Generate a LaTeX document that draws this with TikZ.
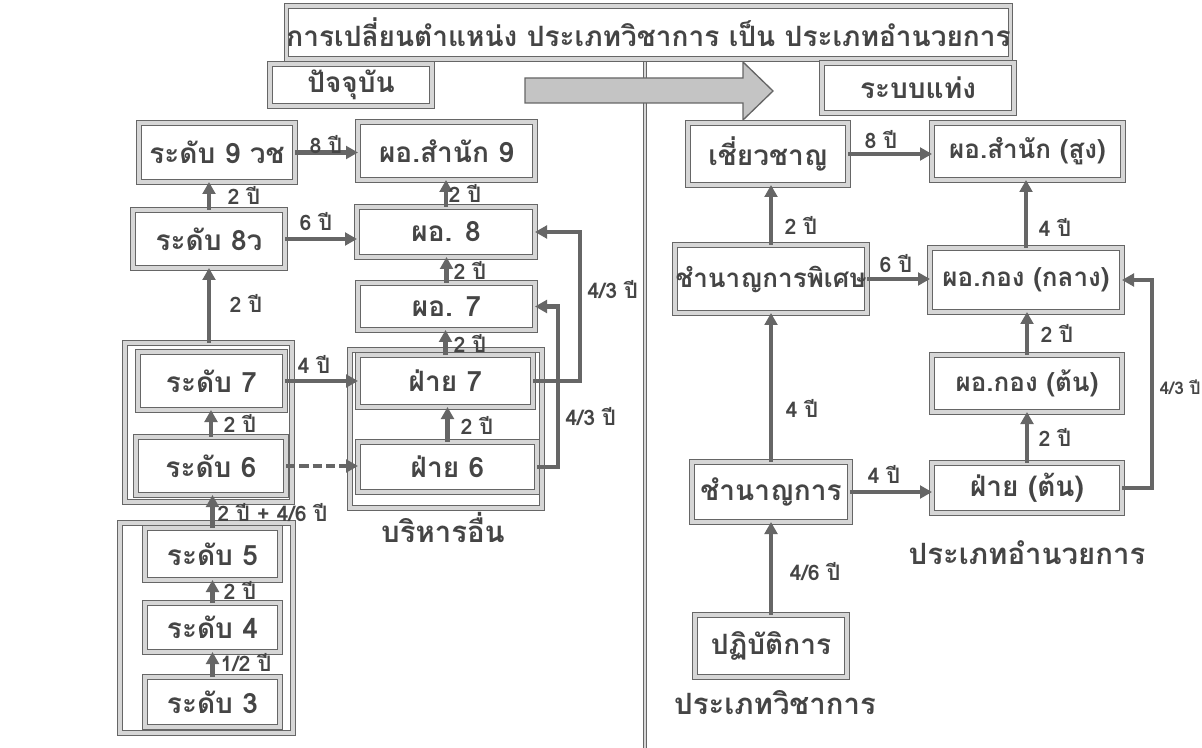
\documentclass[tikz,border=0pt]{standalone}
\usepackage{fontspec}
\newfontfamily\thaifont[Script=Thai]{Loma}
\usetikzlibrary{arrows.meta}
\definecolor{lc}{HTML}{666666}
\definecolor{tc}{HTML}{454545}
\definecolor{dc}{HTML}{D6D6D6}
\definecolor{af}{HTML}{C4C4C4}
\newcommand{\bx}[7][]{\node[box,#1,minimum width={(#5-#3)*0.75pt},minimum height={(#6-#4)*0.75pt}] (#2) at ({(#3+#5)/2},{(#4+#6)/2}) {#7};}
\begin{document}
\begin{tikzpicture}[x=0.75pt,y=-0.75pt,
 box/.style={draw=lc, line width=1pt, double=dc, double distance=2.4pt, inner sep=0pt, outer sep=0pt,
   font=\thaifont\bfseries\fontsize{21}{24}\selectfont, text=tc, fill=white},
 grp/.style={fill=none},
 tbox/.style={font=\thaifont\bfseries\fontsize{21}{24}\selectfont},
 smallbox/.style={font=\thaifont\bfseries\fontsize{19.5}{24}\selectfont},
 arr/.style={draw=lc, line width=3.1pt, -{Triangle[length=9pt,width=9.5pt]}},
 lbl/.style={font=\thaifont\bfseries\fontsize{16}{19}\selectfont, text=tc, inner sep=0pt},
 captxt/.style={font=\thaifont\bfseries\fontsize{22}{26}\selectfont, text=tc, inner sep=0pt},
]
\fill[white] (0,0) rectangle (1202,748);
\useasboundingbox (0,0) rectangle (1202,748);
% divider and big arrow
\draw[draw=lc, line width=0.8pt, double=dc, double distance=1.5pt] (645,59) -- (645,748);
\draw[draw=lc, fill=af, line width=1pt] (525,78) -- (743,78) -- (743,62) -- (773,91) -- (743,120) -- (743,103) -- (525,103) -- cycle;
% groups
\bx[grp]{g76}{125}{343}{292}{502}{}
\bx[grp]{gf}{350}{350}{542}{508}{}
\bx[grp]{g5}{120}{523}{293}{733}{}
% boxes
\bx[tbox]{title}{316}{6}{981}{59}{การเปลี่ยนตำแหน่ง ประเภทวิชาการ เป็น ประเภทอำนวยการ}
\bx{now}{270}{64}{432}{106}{ปัจจุบัน}
\bx{bar}{822}{63}{1014}{113}{ระบบแท่ง}
\bx{r9}{139}{123}{295}{182}{ระดับ 9 วช}
\bx{s9}{358}{122}{535}{180}{ผอ.สำนัก 9}
\bx{r8}{133}{210}{285}{268}{ระดับ 8ว}
\bx{d8}{357}{207}{535}{257}{ผอ. 8}
\bx{d7}{358}{283}{535}{330}{ผอ. 7}
\bx{r7}{138}{352}{285}{410}{ระดับ 7}
\bx{r6}{136}{437}{286}{495}{ระดับ 6}
\bx{f7}{358}{355}{533}{407}{ฝ่าย 7}
\bx{f6}{358}{442}{537}{492}{ฝ่าย 6}
\bx{r5}{145}{528}{280}{580}{ระดับ 5}
\bx{r4}{145}{603}{280}{652}{ระดับ 4}
\bx{r3}{145}{677}{280}{727}{ระดับ 3}
\bx{ex}{688}{123}{848}{185}{เชี่ยวชาญ}
\bx[smallbox]{hi}{932}{123}{1123}{180}{ผอ.สำนัก (สูง)}
\bx[smallbox]{sp}{675}{245}{867}{313}{ชำนาญการพิเศษ}
\bx[smallbox]{mid}{930}{248}{1122}{312}{ผอ.กอง (กลาง)}
\bx[smallbox]{low}{932}{355}{1122}{412}{ผอ.กอง (ต้น)}
\bx{ch}{692}{462}{850}{522}{ชำนาญการ}
\bx{ft}{932}{463}{1122}{513}{ฝ่าย (ต้น)}
\bx{pr}{695}{615}{847}{677}{ปฏิบัติการ}
% captions
\node[captxt] (c1) at (443,527) {บริหารอื่น};
\node[captxt] (c2) at (1027,553) {ประเภทอำนวยการ};
\node[captxt] (c3) at (775,703) {ประเภทวิชาการ};
% arrows left
\draw[arr] (r9.east) -- (r9.east -| s9.west);
\draw[arr] (r8.east) -- (r8.east -| d8.west);
\draw[arr] (r8.north) -- (r8.north |- r9.south);
\draw[arr] (r8.south |- g76.north) -- (r8.south);
\draw[arr] (r6.north) -- (r6.north |- r7.south);
\draw[arr] (r5.north) -- (r5.north |- r6.south);
\draw[arr] (r4.north) -- (r4.north |- r5.south);
\draw[arr] (r3.north) -- (r3.north |- r4.south);
\draw[arr] (r7.east) -- (r7.east -| f7.west);
\draw[arr, dash pattern=on 7pt off 3pt] (r6.east) -- (r6.east -| f6.west);
\draw[arr] (d8.north) -- (d8.north |- s9.south);
\draw[arr] (d7.north) -- (d7.north |- d8.south);
\draw[arr] (f7.north) -- (f7.north |- d7.south);
\draw[arr] (f6.north) -- (f6.north |- f7.south);
\draw[arr] (f7.east) -- ++(47,0) |- (d8.east);
\draw[arr] (f6.east) -- ++(21,0) |- (d7.east);
% arrows right
\draw[arr] (ex.east) -- (ex.east -| hi.west);
\draw[arr] (sp.north) -- (sp.north |- ex.south);
\draw[arr] (sp.east) -- (sp.east -| mid.west);
\draw[arr] (mid.north) -- (mid.north |- hi.south);
\draw[arr] (low.north) -- (low.north |- mid.south);
\draw[arr] (ft.north) -- (ft.north |- low.south);
\draw[arr] (ch.north) -- (ch.north |- sp.south);
\draw[arr] (ch.east) -- (ch.east -| ft.west);
\draw[arr] (pr.north) -- (pr.north |- ch.south);
\draw[arr] (ft.east) -- ++(30,0) |- (mid.east);
% labels left
\node[lbl] (l1) at (326,145) {8 ปี};
\node[lbl] (l2) at (316,222) {6 ปี};
\node[lbl] (l3) at (244,195) {2 ปี};
\node[lbl] (l4) at (246,303) {2 ปี};
\node[lbl] (l5) at (240,423) {2 ปี};
\node[lbl, anchor=west] (l6) at (217,513) {2 ปี + 4/6 ปี};
\node[lbl] (l7) at (240,590) {2 ปี};
\node[lbl] (l8) at (246,663) {1/2 ปี};
\node[lbl] (l9) at (314,364) {4 ปี};
\node[lbl] (l10) at (465,193) {2 ปี};
\node[lbl] (l11) at (470,270) {2 ปี};
\node[lbl] (l12) at (470,343) {2 ปี};
\node[lbl] (l13) at (477,425) {2 ปี};
\node[lbl, anchor=west] (l14) at (587,290) {4/3 ปี};
\node[lbl, anchor=west] (l15) at (565,417) {4/3 ปี};
% labels right
\node[lbl] (m1) at (881,140) {8 ปี};
\node[lbl] (m2) at (801,225) {2 ปี};
\node[lbl] (m3) at (896,264) {6 ปี};
\node[lbl] (m4) at (1055,227) {4 ปี};
\node[lbl] (m5) at (1057,333) {2 ปี};
\node[lbl] (m6) at (1055,437) {2 ปี};
\node[lbl] (m7) at (802,408) {4 ปี};
\node[lbl] (m8) at (884,474) {4 ปี};
\node[lbl] (m9) at (815,572) {4/6 ปี};
\node[lbl, anchor=east, font=\thaifont\bfseries\fontsize{13}{16}\selectfont] (m10) at (1201,387) {4/3 ปี};
\end{tikzpicture}
\end{document}
